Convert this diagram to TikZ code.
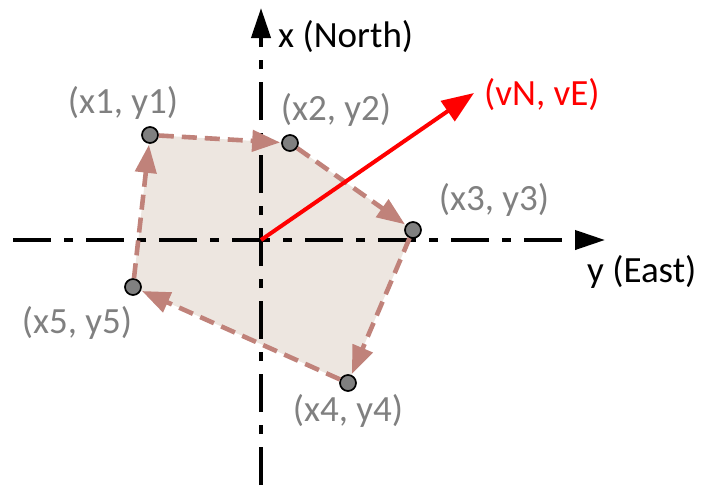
\documentclass[tikz,border=0pt]{standalone}
\usepackage{fontspec}
\setmainfont{Carlito}
\usetikzlibrary{arrows.meta}
\definecolor{polyfill}{RGB}{237,230,224}
\definecolor{edgecol}{RGB}{192,130,122}
\definecolor{labgray}{RGB}{128,128,128}
\definecolor{dotgray}{RGB}{128,128,128}
\tikzset{
  axisline/.style={line width=4pt, black, dash pattern=on 38pt off 13pt on 9pt off 13pt, -{Triangle[length=30pt,width=19pt]}},
  edgeline/.style={line width=4.6pt, edgecol, dash pattern=on 15pt off 8pt, -{Triangle[length=28pt,width=21pt]}, shorten >=1pt},
  ptdot/.style={circle, draw=black, fill=dotgray, line width=1.7pt, minimum size=16pt, inner sep=0pt},
  ptlabel/.style={text=labgray, font=\fontsize{37}{40}\selectfont, inner sep=0pt},
  axislabel/.style={text=black, font=\fontsize{37}{40}\selectfont, inner sep=0pt},
  vellabel/.style={text=red, font=\fontsize{37}{40}\selectfont, inner sep=0pt},
}
\begin{document}
\begin{tikzpicture}[x=1pt,y=-1pt]
\useasboundingbox (0,0) rectangle (702,485);
\coordinate (o) at (261,240);
\coordinate (vbot) at (261,485);
\coordinate (vtop) at (261,8);
\coordinate (hleft) at (13,240);
\coordinate (hright) at (605,240);
\coordinate (vel) at (474,93);
\coordinate (p1c) at (150,135);
\coordinate (p2c) at (290,143);
\coordinate (p3c) at (413,230);
\coordinate (p4c) at (348,383);
\coordinate (p5c) at (133,287);
\fill[polyfill] (p1c) -- (p2c) -- (p3c) -- (p4c) -- (p5c) -- cycle;
\draw[axisline] (vbot) -- (vtop);
\draw[axisline] (hleft) -- (hright);
\node[ptdot] (p1) at (p1c) {};
\node[ptdot] (p2) at (p2c) {};
\node[ptdot] (p3) at (p3c) {};
\node[ptdot] (p4) at (p4c) {};
\node[ptdot] (p5) at (p5c) {};
\draw[edgeline] (p1) -- (p2);
\draw[edgeline] (p2) -- (p3);
\draw[edgeline] (p3) -- (p4);
\draw[edgeline] (p4) -- (p5);
\draw[edgeline] (p5) -- (p1);
\draw[red, line width=4pt, -{Triangle[length=32pt,width=24pt]}] (o) -- (vel);
\node[ptlabel] (l1) at (123,103) {(x1, y1)};
\node[ptlabel] (l2) at (336,110) {(x2, y2)};
\node[ptlabel] (l3) at (494,200) {(x3, y3)};
\node[ptlabel] (l4) at (348,411) {(x4, y4)};
\node[ptlabel] (l5) at (77,323) {(x5, y5)};
\node[axislabel, anchor=west] (xn) at (278,37) {x (North)};
\node[axislabel, anchor=west] (ye) at (587,272) {y (East)};
\node[vellabel, anchor=west] (ve) at (484,95) {(vN, vE)};
\end{tikzpicture}
\end{document}
